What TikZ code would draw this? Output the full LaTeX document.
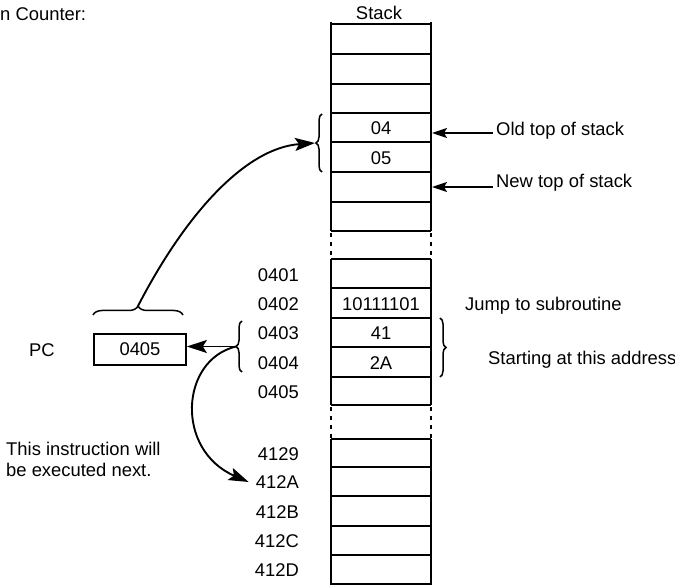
\documentclass[tikz,border=0pt]{standalone}
\usepackage{fontspec}
\setmainfont{Liberation Sans}
\usetikzlibrary{arrows.meta,decorations.pathreplacing}
\begin{document}
\begin{tikzpicture}[x=1pt,y=-1pt,
  every node/.style={font=\fontsize{18.4}{21}\selectfont, inner sep=0pt},
  hline/.style={line width=1.9pt},
  vline/.style={line width=2.4pt},
  gapline/.style={line width=2.4pt, dash pattern=on 4pt off 5pt},
  smallarr/.style={line width=1.8pt, -{Stealth[length=15pt,width=10pt,inset=3pt]}},
  bigarr/.style={line width=1.9pt, -{Stealth[length=20pt,width=13pt,inset=4pt]}},
  bracedec/.style={line width=1.5pt, decorate, decoration={brace, amplitude=6pt}},
  addr/.style={anchor=east},
  note/.style={anchor=base west},
  pcbox/.style={draw, line width=1.7pt, minimum width=92pt, minimum height=31pt},
]
\useasboundingbox (0,0) rectangle (675,585);

% stack outline
\foreach \y in {24,54,84,113,142,172,202,231,259,288,318,347,377,405,439,467,496,526,555,584}
  \draw[hline] (331,\y) -- (431,\y);
\foreach \x in {331,431} {
  \draw[vline] (\x,22) -- (\x,231);
  \draw[vline] (\x,259) -- (\x,405);
  \draw[vline] (\x,439) -- (\x,585);
  \draw[gapline] (\x,233) -- (\x,258);
  \draw[gapline] (\x,407) -- (\x,438);
}

% labels and cell contents
\node (title) at (0,21) [anchor=base west] {n Counter:};
\node (stacklbl) at (379,13) {Stack};
\node (c04) at (381,128) {04};
\node (c05) at (381,158) {05};
\node (cjsr) at (381,304) {10111101};
\node (c41) at (381,333) {41};
\node (c2A) at (381,363) {2A};

\node[addr] (a0401) at (299,275) {0401};
\node[addr] (a0402) at (299,304) {0402};
\node[addr] (a0403) at (299,333) {0403};
\node[addr] (a0404) at (299,363) {0404};
\node[addr] (a0405) at (299,392) {0405};
\node[addr] (a4129) at (299,454) {4129};
\node[addr] (a412A) at (299,482) {412A};
\node[addr] (a412B) at (299,512) {412B};
\node[addr] (a412C) at (299,541) {412C};
\node[addr] (a412D) at (299,570) {412D};

\node[note] (oldtop) at (496,136) {Old top of stack};
\node[note] (newtop) at (496,188) {New top of stack};
\node[note] (jsr) at (465,311) {Jump to subroutine};
\node[note] (start) at (488,365) {Starting at this address};

\node (pclbl) at (42,350) {PC};
\node[pcbox] (pc) at (140,349.5) {0405};

\node[anchor=north west, align=left] (nextnote) at (6,442) {This instruction will\\be executed next.};

% arrows pointing to stack
\coordinate (oldtail) at (493,133);
\coordinate (oldhead) at (432,133);
\coordinate (newtail) at (493,187);
\coordinate (newhead) at (432,187);
\draw[smallarr] (oldtail) -- (oldhead);
\draw[smallarr] (newtail) -- (newhead);

% braces
\draw[bracedec] (322,172) -- (322,114);
\coordinate (b1tip) at (315,143);
\draw[bracedec] (242,372) -- (242,321);
\coordinate (b2tip) at (236,346.5);
\draw[bracedec] (440,318) -- (440,377);
\draw[bracedec, decoration={amplitude=9pt}] (93,315) -- (183,315);
\coordinate (b4tip) at (138,306);

% connectors
\draw[bigarr] (b4tip) .. controls (185,215) and (245,148) .. (b1tip);
\draw[bigarr] (b2tip) -- (b2tip -| pc.east);
\draw[bigarr] (b2tip) .. controls (180,360) and (175,450) .. ([xshift=-7pt]a412A.west);
\end{tikzpicture}
\end{document}
